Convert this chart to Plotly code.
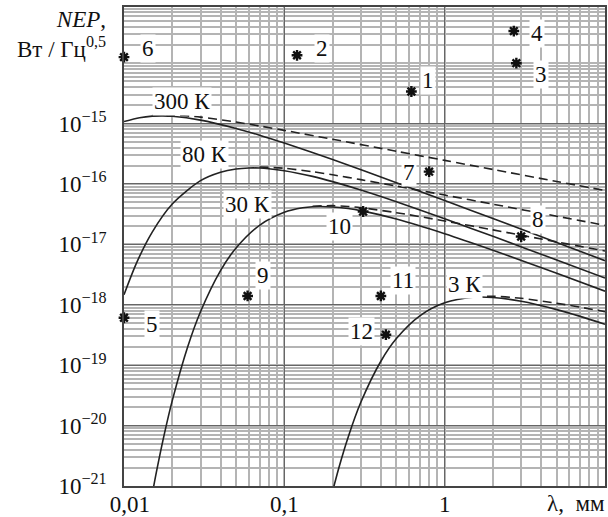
import plotly.graph_objects as go
import math

# ---- data ----
lam_300 = [0.01, 0.0125, 0.015, 0.0175, 0.02, 0.03, 0.05, 0.07, 0.1, 0.2, 0.5, 1, 2, 5, 10]
nep_300 = [1.08e-15, 1.25e-15, 1.33e-15, 1.34e-15, 1.32e-15, 1.14e-15, 8.3e-16, 6.43e-16,
           4.76e-16, 2.54e-16, 1.05e-16, 5.32e-17, 2.68e-17, 1.075e-17, 5.38e-18]
lam_300d = [0.015, 0.0175, 0.02, 0.03, 0.05, 0.07, 0.1, 0.2, 0.5, 1, 2, 5, 10]
nep_300d = [1.355e-15, 1.38e-15, 1.38e-15, 1.28e-15, 1.06e-15, 9.12e-16, 7.71e-16, 5.5e-16,
            3.48e-16, 2.46e-16, 1.74e-16, 1.10e-16, 7.78e-17]

lam_80 = [0.01, 0.012, 0.015, 0.02, 0.03, 0.04, 0.05, 0.06, 0.07, 0.08, 0.1, 0.15, 0.2, 0.3,
          0.5, 1, 2, 5, 10]
nep_80 = [1.47e-18, 5.0e-18, 1.60e-17, 4.66e-17, 1.135e-16, 1.567e-16, 1.772e-16, 1.84e-16,
          1.837e-16, 1.79e-16, 1.66e-16, 1.335e-16, 1.094e-16, 7.93e-17, 5.07e-17, 2.66e-17,
          1.36e-17, 5.51e-18, 2.77e-18]
lam_80d = [0.07, 0.1, 0.15, 0.2, 0.3, 0.5, 1, 2, 5, 10]
nep_80d = [1.91e-16, 1.82e-16, 1.596e-16, 1.419e-16, 1.18e-16, 9.23e-17, 6.55e-17, 4.63e-17,
           2.93e-17, 2.07e-17]

lam_30 = [0.015, 0.016, 0.018, 0.02, 0.025, 0.03, 0.04, 0.05, 0.07, 0.1, 0.13, 0.15, 0.2, 0.25,
          0.3, 0.5, 1, 2, 5, 10]
nep_30 = [7.33e-22, 1.81e-21, 8.01e-21, 2.59e-20, 2.04e-19, 7.67e-19, 3.68e-18, 8.73e-18,
          2.07e-17, 3.40e-17, 4.03e-17, 4.20e-17, 4.17e-17, 3.92e-17, 3.62e-17, 2.63e-17,
          1.505e-17, 8.02e-18, 3.33e-18, 1.68e-18]
lam_30d = [0.15, 0.2, 0.25, 0.3, 0.5, 1, 2, 5, 10]
nep_30d = [4.29e-17, 4.38e-17, 4.24e-17, 4.05e-17, 3.35e-17, 2.44e-17, 1.74e-17, 1.10e-17, 7.78e-18]

lam_3 = [0.2, 0.22, 0.25, 0.3, 0.4, 0.5, 0.7, 1, 1.5, 2, 3, 5, 7, 10]
nep_3 = [8.19e-22, 2.11e-21, 6.44e-21, 2.43e-20, 1.163e-19, 2.76e-19, 6.56e-19, 1.077e-18,
         1.33e-18, 1.32e-18, 1.143e-18, 8.32e-19, 6.43e-19, 4.76e-19]
lam_3d = [1.5, 2, 3, 5, 7, 10]
nep_3d = [1.355e-18, 1.384e-18, 1.28e-18, 1.06e-18, 9.12e-19, 7.71e-19]

pt_labels = ["1", "2", "3", "4", "5", "6", "7", "8", "9", "10", "11", "12"]
pt_lam = [0.62, 0.12, 2.8, 2.7, 0.01, 0.01, 0.8, 3.0, 0.059, 0.31, 0.4, 0.43]
pt_nep = [3.4e-15, 1.35e-14, 1.0e-14, 3.4e-14, 6.1e-19, 1.26e-14, 1.6e-16, 1.35e-17,
          1.4e-18, 3.5e-17, 1.4e-18, 3.2e-19]

temp_labels = ["300 К", "80 К", "30 К", "3 К"]

x_tickvals = [0.01, 0.1, 1]
x_ticktext = ["&nbsp;&nbsp;0,01", "0,1", "1"]
y_tickvals = [1e-21, 1e-20, 1e-19, 1e-18, 1e-17, 1e-16, 1e-15]
y_ticktext = ["10<sup>−21</sup>", "10<sup>−20</sup>", "10<sup>−19</sup>", "10<sup>−18</sup>",
              "10<sup>−17</sup>", "10<sup>−16</sup>", "10<sup>−15</sup>"]
y_extra_major = [1e-14]

# ---- styles ----
FONT = "Liberation Serif"
LINE_COL = "#222"
TXT = "#111"
W, H = 608, 517
ML, MR, MT, MB = 124, 3, 7, 31
PW, PH = W - ML - MR, H - MT - MB
LBL_SIZE = 23
TICK_SIZE = 23

fig = go.Figure()

curves = [(lam_300, nep_300, "solid"), (lam_300d, nep_300d, "9px,5px"),
          (lam_80, nep_80, "solid"), (lam_80d, nep_80d, "9px,5px"),
          (lam_30, nep_30, "solid"), (lam_30d, nep_30d, "9px,5px"),
          (lam_3, nep_3, "solid"), (lam_3d, nep_3d, "9px,5px")]
for lx, ly, dash in curves:
    fig.add_trace(go.Scatter(x=lx, y=ly, mode="lines",
                             line=dict(color=LINE_COL, width=1.6, dash=dash, shape="spline",
                                       smoothing=0.8),
                             hoverinfo="skip", showlegend=False))

fig.add_trace(go.Scatter(x=pt_lam, y=pt_nep, mode="markers",
                         marker=dict(symbol="asterisk", size=9, color="#111",
                                     line=dict(color="#111", width=2.4)),
                         cliponaxis=False, showlegend=False, hoverinfo="skip"))

# point labels, offsets in px from their points
offsets = {"1": (17, 11), "2": (25, 7), "3": (25, -11), "4": (23, -2), "5": (28, -7),
           "6": (24, 9), "7": (-20, -1), "8": (17, 17), "9": (15, 20), "10": (-24, -15),
           "11": (22, 15), "12": (-24, 3)}
for lab, lx, ly in zip(pt_labels, pt_lam, pt_nep):
    dx, dy = offsets[lab]
    fig.add_annotation(x=math.log10(lx), y=math.log10(ly), xref="x", yref="y", text=lab,
                       showarrow=False, xshift=dx, yshift=dy, bgcolor="white", borderpad=1,
                       xanchor="center", yanchor="middle",
                       font=dict(family=FONT, size=LBL_SIZE, color=TXT))

# temperature labels (pixel centres -> paper)
temp_pos = [(182, 101), (204, 154), (247, 204), (464, 284)]
for lab, (px, py) in zip(temp_labels, temp_pos):
    fig.add_annotation(x=(px - ML) / PW, y=(H - MB - py) / PH, xref="paper", yref="paper",
                       text=lab, showarrow=False, bgcolor="white", borderpad=1,
                       xanchor="center", yanchor="middle",
                       font=dict(family=FONT, size=LBL_SIZE, color=TXT))

# axis title (two lines, right aligned)
fig.add_annotation(x=(108 - ML) / PW, y=(H - MB - 34) / PH, xref="paper", yref="paper",
                   text="<i>NEP</i>,<br>Вт / Гц<sup>0,5</sup>", showarrow=False,
                   xanchor="right", yanchor="middle", align="right",
                   font=dict(family=FONT, size=23, color=TXT))
fig.add_annotation(x=(607 - ML) / PW, y=(H - MB - 504) / PH, xref="paper", yref="paper",
                   text="λ,  мм", showarrow=False, xanchor="right", yanchor="middle",
                   font=dict(family=FONT, size=LBL_SIZE, color=TXT))

for yv in y_extra_major:
    fig.add_shape(type="line", xref="paper", x0=0, x1=1, yref="y",
                  y0=math.log10(yv), y1=math.log10(yv),
                  line=dict(color="#666", width=1.3), layer="below")

axis_common = dict(showline=True, mirror=True, linecolor="#444", linewidth=1.5,
                   showgrid=True, gridcolor="#666", gridwidth=1.3, zeroline=False,
                   automargin=False,
                   tickfont=dict(family=FONT, size=TICK_SIZE, color=TXT),
                   minor=dict(showgrid=True, gridcolor="#b4b4b4", gridwidth=1.5, dtick="D1",
                              ticks=""))

fig.update_xaxes(type="log", range=[-2, 1.0], tickmode="array", tickvals=x_tickvals,
                 ticktext=x_ticktext, ticks="", ticklabelstandoff=-3, **axis_common)
fig.update_yaxes(type="log", range=[-21, -13.07], tickmode="array", tickvals=y_tickvals,
                 ticktext=y_ticktext, ticks="", ticklabelstandoff=11, **axis_common)

fig.update_layout(width=W, height=H, margin=dict(l=ML, r=MR, t=MT, b=MB),
                  plot_bgcolor="white", paper_bgcolor="white",
                  font=dict(family=FONT, size=21, color=TXT))

fig.write_html("out.html", config={"displayModeBar": False},
               post_script="document.body.style.margin='0px';document.body.style.padding='0px';")
